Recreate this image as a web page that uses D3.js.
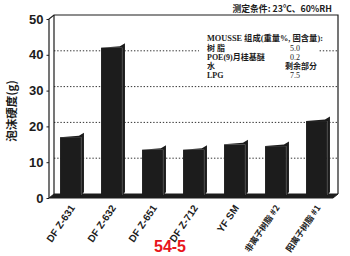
<!DOCTYPE html>
<html><head><meta charset="utf-8">
<script src="https://cdnjs.cloudflare.com/ajax/libs/d3/7.8.5/d3.min.js"></script>
<style>
html,body{margin:0;padding:0;background:#fff;}
svg{display:block;}
</style></head>
<body>
<svg id="c" width="350" height="256"></svg>
<script>
// ---- data ----
const categories = ["DF Z-631","DF Z-632","DF Z-651","DF Z-712","YF SM","非离子树脂 #2","阳离子树脂 #1"];
const hardness = [17, 42, 13.5, 13.5, 15, 14.5, 21.5];
const yTicks = [0,10,20,30,40,50];
const yTitle = "泡沫硬度(g)";
const condition = "测定条件: 23℃、60%RH";
const legendTitle = "MOUSSE 组成(重量%, 固含量):";
const legendNames = ["树 脂","POE(9)月桂基醚","水","LPG"];
const legendValues = ["5.0","0.2","剩余部分","7.5"];
const figLabel = "54-5";

// ---- layout ----
const svg = d3.select("#c");
const ink = "#1c1c1c";
const dx = 5, dy = 4; // depth offsets for back wall
const x = d3.scaleBand().domain(categories).range([50,337]).paddingInner(0.49).paddingOuter(0.245);
const yF = d3.scaleLinear().domain([0,50]).range([198,19]);   // front plane
const yB = d3.scaleLinear().domain([0,50]).range([198-dy,19-dy]); // back wall

const xL = 49, xR = 338;

// back wall gridlines
svg.append("g").selectAll("line").data(yTicks.filter(d=>d>0 && d<50)).join("line")
  .attr("x1", xL+dx).attr("x2", xR).attr("y1", d=>yB(d)).attr("y2", d=>yB(d))
  .attr("stroke","#333").attr("stroke-width",1).attr("stroke-dasharray","1.4 1.8");

// legend box (white background hides gridline)
const lg = svg.append("g");
const lfont = "'Liberation Serif','Noto Sans CJK SC',serif";
lg.append("rect").attr("x",199).attr("y",29).attr("width",120).attr("height",50).attr("fill","#fff");
lg.append("text").attr("x",207).attr("y",41).text(legendTitle)
  .attr("font-family",lfont).attr("font-weight","bold").attr("font-size",8.3).attr("fill",ink);
legendNames.forEach((n,i)=>{
  const yy = 50.5 + i*9;
  lg.append("text").attr("x",207).attr("y",yy).text(n)
    .attr("font-family",lfont).attr("font-weight","bold").attr("font-size",8).attr("fill",ink);
  lg.append("text").attr("x", i===2 ? 285 : 290).attr("y",yy).text(legendValues[i])
    .attr("font-family",lfont).attr("font-weight", i===2?"bold":"normal").attr("font-size",8).attr("fill",ink);
});

// frame
const frame = svg.append("g").attr("fill","none").attr("stroke",ink).attr("stroke-width",1.2);
frame.append("path").attr("d",`M${xL},${yF(0)} L${xL},${yF(50)} L${xL+dx},${yB(50)} L${xR},${yB(50)} L${xR},${yB(0)}`);
frame.append("path").attr("d",`M${xL+dx},${yB(50)} L${xL+dx},${yB(0)}`);
// floor
svg.append("path").attr("d",`M${xL},${yF(0)} L${xL+dx},${yB(0)} L${xR},${yB(0)} L${xR-dx},${yF(0)} Z`)
  .attr("fill",ink).attr("stroke",ink).attr("stroke-width",1);

// bars
const bw = x.bandwidth(), bdx = 3, bdy = 4;
const bars = svg.append("g").selectAll("g").data(categories.map((c,i)=>({c, v:hardness[i]}))).join("g");
const base = yF(0) - 2;
bars.append("rect").attr("x",d=>x(d.c)).attr("y",d=>yF(d.v)).attr("width",bw).attr("height",d=>base-yF(d.v)).attr("fill",ink);
bars.append("path").attr("fill",ink).attr("d",d=>{
  const x0=x(d.c), t=yF(d.v);
  return `M${x0},${t} L${x0+bw-2},${t-1.5} L${x0+bw+bdx},${t-bdy-0.5} L${x0+bw+bdx},${base-bdy} L${x0+bw},${base} L${x0+bw},${t} Z`;
});
bars.append("path").attr("fill","none").attr("stroke","#666").attr("stroke-width",0.6).attr("d",d=>{
  const x0=x(d.c), t=yF(d.v);
  return `M${x0+bw+0.5},${t} L${x0+bw+0.5},${base-1}`;
});

// y axis
const ax = svg.append("g").attr("transform",`translate(${xL},0)`)
  .call(d3.axisLeft(yF).tickValues(yTicks).tickSize(2.5).tickPadding(3).tickFormat(d3.format("d")));
ax.select(".domain").remove();
ax.selectAll(".tick line").attr("stroke",ink);
ax.selectAll("text").attr("font-family","'Liberation Sans',Arial,sans-serif").attr("font-weight","bold").attr("font-size",13).attr("fill",ink);

// y title
svg.append("text").attr("transform","translate(16,111) rotate(-90)").attr("text-anchor","middle")
  .attr("font-family","'Noto Sans CJK SC',sans-serif").attr("font-weight","bold").attr("font-size",11.5).attr("fill",ink).text(yTitle);

// x labels
const isCJK = d=>/[\u4e00-\u9fff]/.test(d);
svg.append("g").selectAll("text").data(categories).join("text")
  .attr("transform",d=>`translate(${x(d)+bw/2+2},${206}) rotate(-56)`)
  .attr("text-anchor","end").attr("dy","0.35em")
  .attr("font-family",d=>isCJK(d)?"'Noto Sans CJK SC',sans-serif":"'Liberation Sans',Arial,sans-serif")
  .attr("font-weight","bold").attr("font-size",d=>isCJK(d)?8.5:10).attr("fill",ink).text(d=>d);

// condition text
svg.append("text").attr("x",332).attr("y",12).attr("text-anchor","end")
  .attr("font-family","'Noto Sans CJK SC',sans-serif").attr("font-weight","bold").attr("font-size",8.8).attr("fill",ink).text(condition);

// figure label
svg.append("text").attr("x",170).attr("y",252).attr("text-anchor","middle")
  .attr("font-family","'Liberation Sans',Arial,sans-serif").attr("font-weight","bold").attr("font-size",16).attr("fill","#e8141b").text(figLabel);
</script>
</body></html>
